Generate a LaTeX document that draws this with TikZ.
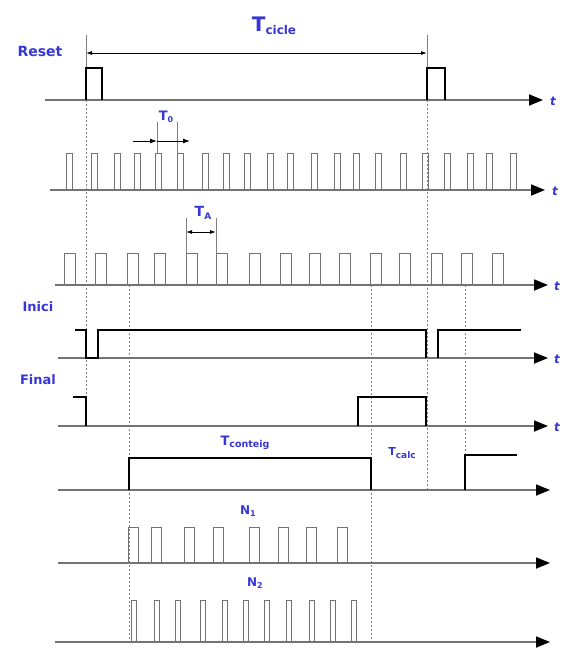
\documentclass[tikz,border=0pt]{standalone}
\usepackage{fontspec}
\setmainfont{DejaVu Sans}
\usetikzlibrary{arrows.meta}
\definecolor{lblue}{RGB}{55,55,215}
\newcommand{\tsub}[5]{{\fontsize{#3}{#3}\selectfont #1}\raisebox{-#5}{\fontsize{#4}{#4}\selectfont #2}}
\begin{document}
\begin{tikzpicture}[x=1pt,y=-1pt,
  axis/.style={draw=black!55,line width=1.8pt,-{Triangle[length=14pt,width=11pt,color=black]}},
  sig/.style={draw=black,line width=2.6pt,line join=miter},
  clk/.style={draw=black!55,line width=1pt},
  guide/.style={draw=black!50,line width=1pt,dash pattern=on 2pt off 2pt},
  ext/.style={draw=black!50,line width=0.7pt},
  dim/.style={draw=black,line width=0.9pt},
  lbl/.style={text=lblue,font=\bfseries,inner sep=0pt},
  tlbl/.style={text=lblue,font=\bfseries\itshape\fontsize{12}{12}\selectfont,inner sep=0pt}]
\useasboundingbox (0,0) rectangle (563,649);
\fill[white] (0,0) rectangle (563,649);

% guide lines
\draw[guide] (86,100) -- (86,428);
\draw[guide] (427,100) -- (427,490);
\draw[guide] (129,285) -- (129,642);
\draw[guide] (371,285) -- (371,642);
\draw[guide] (465,285) -- (465,458);

% extension lines
\draw[ext] (86,35) -- (86,68);
\draw[ext] (427,35) -- (427,68);
\draw[ext] (157,122) -- (157,153);
\draw[ext] (177,122) -- (177,153);
\draw[ext] (186,218) -- (186,253);
\draw[ext] (216,218) -- (216,253);

% axes
\foreach \y/\xs/\xe in {100/45/543,190/50/545,285/55/548,358/58/548,426/58/548,490/58/550,563/58/550,642/55/550}
  \draw[axis] (\xs,\y) -- (\xe,\y);

% Reset
\draw[sig] (86,100) -- (86,68) -- (102,68) -- (102,100);
\draw[sig] (427,100) -- (427,68) -- (445,68) -- (445,100);

% T0 clock
\foreach \x in {66,91.5,114,134,155.5,177,202,223,244,267.5,287,311.5,334,353.5,375,400.5,422,444.5,467,486.5,510}
  \draw[clk] (\x,190) -- (\x,153) -- ++(6,0) -- ++(0,37);

% TA clock
\foreach \x in {64,95,127.5,154.5,186,216.5,249.5,280,309.5,339.5,370,399.5,431,461.5,492}
  \draw[clk] (\x,285) -- (\x,253) -- ++(11,0) -- ++(0,32);

% Inici
\draw[sig] (75,330) -- (86,330) -- (86,358) -- (98,358) -- (98,330) -- (426,330) -- (426,358);
\draw[sig] (438,358) -- (438,330) -- (521,330);

% Final
\draw[sig] (73,397) -- (86,397) -- (86,426);
\draw[sig] (358,426) -- (358,397) -- (426,397) -- (426,426);

% Tconteig
\draw[sig] (129,490) -- (129,458) -- (371,458) -- (371,490);
\draw[sig] (465,490) -- (465,455) -- (517,455);

% N1
\foreach \x in {128.5,151,184,213.5,249.5,278,306,337}
  \draw[clk] (\x,563) -- (\x,527) -- ++(10,0) -- ++(0,36);

% N2
\foreach \x in {131,154,175,200,222,243,264,286,309,330,351}
  \draw[clk] (\x,642) -- (\x,600) -- ++(5,0) -- ++(0,42);

% dimension arrows
\coordinate (ca) at (86,53); \coordinate (cb) at (427,53);
\draw[dim,{Latex[length=6pt,width=4pt]}-{Latex[length=6pt,width=4pt]}] (ca) -- (cb);
\coordinate (t0a) at (133,141); \coordinate (t0b) at (157,141); \coordinate (t0c) at (190,141);
\draw[dim,-{Latex[length=7pt,width=5pt]}] (t0a) -- (t0b);
\draw[dim,-{Latex[length=7pt,width=5pt]}] (t0b) -- (t0c);
\coordinate (taa) at (186,232); \coordinate (tab) at (216,232);
\draw[dim,{Latex[length=6pt,width=4pt]}-{Latex[length=6pt,width=4pt]}] (taa) -- (tab);

% labels
\node[lbl] (tcicle) at (274,26) {\tsub{T}{cicle}{20}{12}{3pt}};
\node[lbl,font=\bfseries\fontsize{14}{14}\selectfont] (reset) at (40,51) {Reset};
\node[lbl] (t0) at (166,117) {\tsub{T}{0}{13}{8}{2pt}};
\node[lbl] (ta) at (203,213) {\tsub{T}{A}{14}{9}{2.5pt}};
\node[lbl,font=\bfseries\fontsize{13}{13}\selectfont] (inici) at (38,307) {Inici};
\node[lbl,font=\bfseries\fontsize{13}{13}\selectfont] (final) at (38,380) {Final};
\node[lbl] (tconteig) at (245,443) {\tsub{T}{conteig}{13}{9.5}{2.5pt}};
\node[lbl] (tcalc) at (402,453) {\tsub{T}{calc}{11}{9}{2.5pt}};
\node[lbl] (n1) at (248,511) {\tsub{N}{1}{12}{8}{2pt}};
\node[lbl] (n2) at (255,583) {\tsub{N}{2}{12}{8}{2pt}};

\node[tlbl] (t1) at (553,101) {t};
\node[tlbl] (t2) at (555,191) {t};
\node[tlbl] (t3) at (557,286) {t};
\node[tlbl] (t4) at (557,359) {t};
\node[tlbl] (t5) at (557,427) {t};
\end{tikzpicture}
\end{document}
